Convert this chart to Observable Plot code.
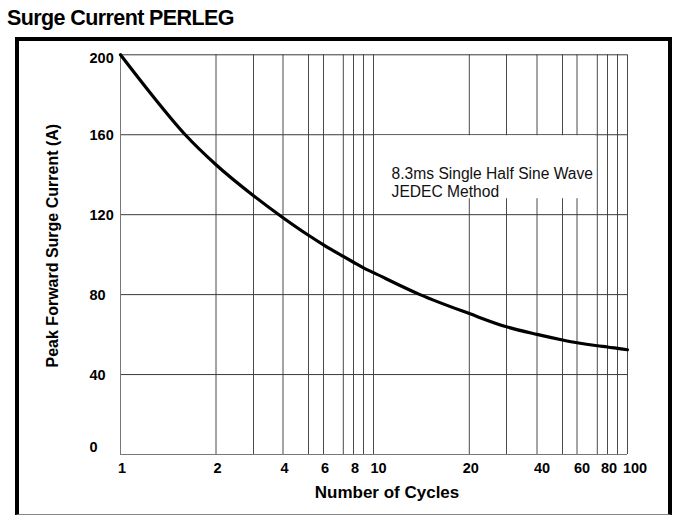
<!DOCTYPE html>
<html><head><meta charset="utf-8">
<script src="https://cdn.jsdelivr.net/npm/d3@7"></script>
<script src="https://cdn.jsdelivr.net/npm/@observablehq/plot@0.6"></script>
<style>
body{margin:0;background:#fff;font-family:"Liberation Sans",Arial,sans-serif;}
#wrap{position:relative;width:678px;height:516px;overflow:hidden;background:#fff;}
#title{position:absolute;left:7px;top:7.2px;font-size:21.5px;font-weight:bold;letter-spacing:-0.6px;line-height:22px;white-space:nowrap;}
#chart{position:absolute;left:0;top:41px;}
#frame{position:absolute;left:15px;top:37px;width:649px;height:473px;border:4px solid #000;border-bottom:1px solid #888;pointer-events:none;}
</style></head>
<body>
<div id="wrap">
  <div id="title">Surge Current PERLEG</div>
  <div id="chart"></div>
  <div id="frame"></div>
</div>
<script>
// ---- data ----
const cycles  = [1, 1.24, 1.6, 2, 3, 4, 5, 6, 7, 8, 9, 10, 14, 20, 30, 40, 50, 60, 70, 80, 90, 100];
const current = [200, 181, 160, 145, 129.5, 118.5, 109.7, 104.9, 99.1, 96.2, 93.4, 91, 80, 70.5, 63.9, 60.1, 57.3, 55.9, 54.4, 53.8, 53.1, 52.4];

const gridX = [2, 3, 4, 5, 6, 7, 8, 9, 10, 20, 30, 40, 50, 60, 70, 80, 90, 100];
const gridY = [40, 80, 120, 160, 200];
const xTickLabels = [1, 2, 4, 6, 8, 10, 20, 40, 60, 80, 100];
const yTickLabels = [0, 40, 80, 120, 160, 200];
const xTitle = "Number of Cycles";
const yTitle = "Peak Forward Surge Current (A)";
const noteLines = ["8.3ms Single Half Sine Wave", "JEDEC Method"];
const noteAt = [11.4, 144.6];          // cycles, amps (top-left of note)
const noteBox = [10.1, 69, 128, 159.5]; // x1, x2, y1, y2 (white box behind note)

// ---- scale layout: the reference grid is a hand-spaced log grid (piecewise) ----
const xKnots = [1, 2, 3, 4, 5, 6, 7, 8, 9, 10, 20, 30, 40, 50, 60, 70, 80, 90, 100];
const xKnotPx = [120, 215.5, 253, 282.5, 308, 323, 342.8, 353, 363, 373, 468.8, 506, 536.5, 562, 576.5, 596.8, 607, 617, 627];

const data = cycles.map((c, i) => ({c, a: current[i]}));
const W = 678, H = 475;
const lbl = {fontWeight: "bold", fontSize: 14.5, fill: "#000"};

const chart = Plot.plot({
  width: W, height: H,
  marginLeft: 120, marginRight: 51, marginTop: 13.3, marginBottom: 62,
  style: {background: "transparent", fontFamily: "'Liberation Sans', Arial, sans-serif", overflow: "visible"},
  x: {type: "log", domain: xKnots, range: xKnotPx, axis: null},
  y: {domain: [0, 200], axis: null},
  marks: [
    Plot.ruleX(gridX, {x: d => d, stroke: "#4a4a4a", strokeWidth: 1}),
    Plot.ruleY(gridY, {y: d => d, stroke: "#3a3a3a", strokeWidth: 1}),
    Plot.ruleX([1], {x: d => d, stroke: "#777", strokeWidth: 1}),
    Plot.ruleY([0], {y: d => d, stroke: "#777", strokeWidth: 1}),
    Plot.rect([noteBox], {x1: d => d[0], x2: d => d[1], y1: d => d[2], y2: d => d[3], fill: "white"}),
    Plot.text([noteLines.join("\n")], {x: () => noteAt[0], y: () => noteAt[1], text: d => d,
      textAnchor: "start", lineAnchor: "top", lineHeight: 1.19, fontSize: 15.6, fill: "#111"}),
    Plot.line(data, {x: "c", y: "a", curve: "monotone-x", stroke: "#000", strokeWidth: 3.2}),
    // y tick labels (left-aligned like the reference)
    Plot.text(yTickLabels.filter(v => v > 0 && v < 200), {y: d => d, text: d => String(d), frameAnchor: "left", dx: -31, dy: 1, textAnchor: "start", ...lbl}),
    Plot.text(yTickLabels.filter(v => v === 200), {y: d => d, text: d => String(d), frameAnchor: "left", dx: -31, dy: 4, textAnchor: "start", ...lbl}),
    Plot.text(yTickLabels.filter(v => v === 0), {y: d => d, text: d => String(d), frameAnchor: "left", dx: -31, dy: -7, textAnchor: "start", ...lbl}),
    // x tick labels
    Plot.text(xTickLabels.filter(v => [1, 2, 4, 6, 8, 20, 80].includes(v)), {x: d => d, text: d => String(d), frameAnchor: "bottom", lineAnchor: "top", dy: 8, dx: 1.5, ...lbl}),
    Plot.text(xTickLabels.filter(v => [10, 40, 60].includes(v)), {x: d => d, text: d => String(d), frameAnchor: "bottom", lineAnchor: "top", dy: 8, dx: 5, ...lbl}),
    Plot.text(xTickLabels.filter(v => v === 100), {x: d => d, text: d => String(d), frameAnchor: "bottom", lineAnchor: "top", dy: 8, dx: 7.5, ...lbl}),
    // axis titles
    Plot.text([xTitle], {text: d => d, frameAnchor: "bottom", textAnchor: "middle", lineAnchor: "top", dy: 31.5, dx: 13, fontSize: 17, fontWeight: "bold", fill: "#000"}),
    Plot.text([yTitle], {text: d => d, frameAnchor: "left", textAnchor: "middle", rotate: -90, dx: -68, dy: -9, lineAnchor: "middle", fontSize: 16, fontWeight: "bold", fill: "#000"})
  ]
});
document.getElementById("chart").appendChild(chart);
</script>
</body></html>
